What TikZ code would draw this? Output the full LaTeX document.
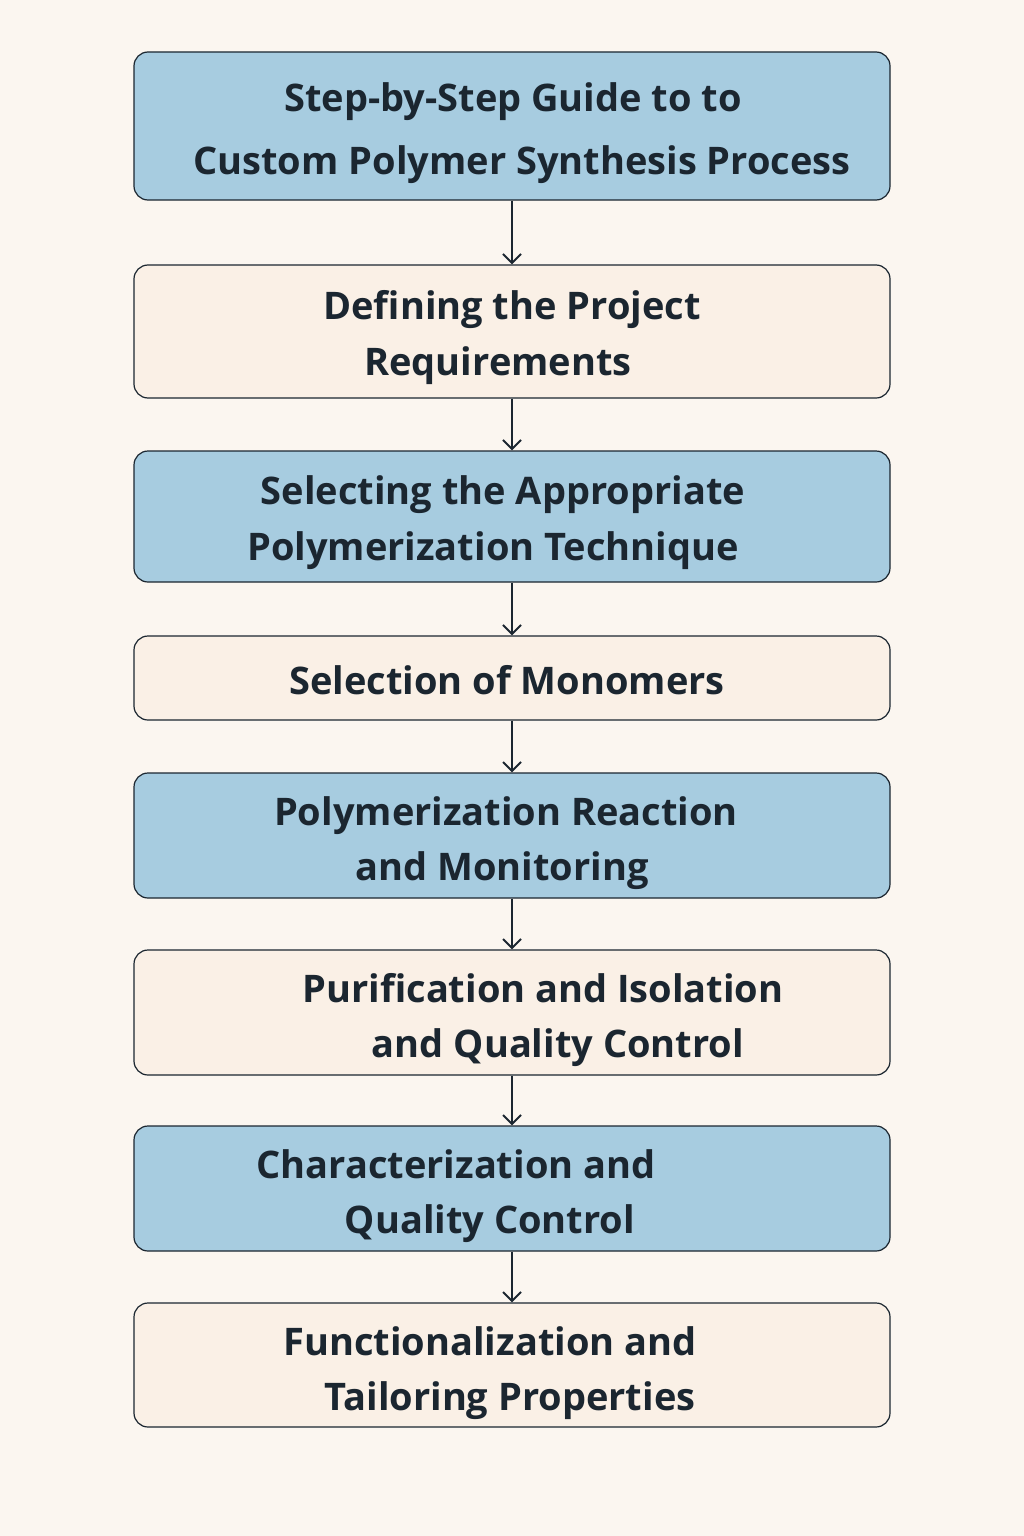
\documentclass[tikz,border=0pt]{standalone}
\usepackage{fontspec}
\setmainfont{Open Sans}
\definecolor{bg}{HTML}{FBF6F0}
\definecolor{bluebox}{HTML}{A7CCE0}
\definecolor{creambox}{HTML}{FAF0E6}
\definecolor{ink}{HTML}{1B2630}
\begin{document}
\begin{tikzpicture}[x=1pt,y=-1pt,
  box/.style={draw=ink,line width=1.2pt,rounded corners=14pt},
  bl/.style={box,fill=bluebox},
  cr/.style={box,fill=creambox},
  txt/.style={text=ink,font=\fontsize{38}{46}\selectfont\bfseries,inner sep=0pt,anchor=base},
  arr/.style={draw=ink,line width=2pt,-{Straight Barb[length=9pt,width=18pt]}}]
\usetikzlibrary{arrows.meta}
\fill[bg] (0,0) rectangle (1024,1536);
\useasboundingbox (0,0) rectangle (1024,1536);
\node[bl,minimum width=756pt,minimum height=148pt] (b1) at (512,126) {};
\node[cr,minimum width=756pt,minimum height=133pt] (b2) at (512,331.5) {};
\node[bl,minimum width=756pt,minimum height=131pt] (b3) at (512,516.5) {};
\node[cr,minimum width=756pt,minimum height=84pt] (b4) at (512,678) {};
\node[bl,minimum width=756pt,minimum height=125pt] (b5) at (512,835.5) {};
\node[cr,minimum width=756pt,minimum height=125pt] (b6) at (512,1012.5) {};
\node[bl,minimum width=756pt,minimum height=125pt] (b7) at (512,1188.5) {};
\node[cr,minimum width=756pt,minimum height=124pt] (b8) at (512,1365) {};
\foreach \a/\b in {b1/b2,b2/b3,b3/b4,b4/b5,b5/b6,b6/b7,b7/b8}
  \draw[arr] (\a.south) -- (\b.north);
\node[txt] (t1a) at (513,112) {Step-by-Step Guide to to};
\node[txt] (t1b) at (522,174) {Custom Polymer Synthesis Process};
\node[txt] (t2a) at (512,319) {Defining the Project};
\node[txt] (t2b) at (498,375) {Requirements};
\node[txt] (t3a) at (503,504) {Selecting the Appropriate};
\node[txt] (t3b) at (493,560) {Polymerization Technique};
\node[txt] (t4) at (507,694) {Selection of Monomers};
\node[txt] (t5a) at (506,825) {Polymerization Reaction};
\node[txt] (t5b) at (502,880) {and Monitoring};
\node[txt] (t6a) at (543,1002) {Purification and Isolation};
\node[txt] (t6b) at (558,1057) {and Quality Control};
\node[txt] (t7a) at (456,1178) {Characterization and};
\node[txt] (t7b) at (490,1233) {Quality Control};
\node[txt] (t8a) at (490,1355) {Functionalization and};
\node[txt] (t8b) at (510,1410) {Tailoring Properties};
\end{tikzpicture}
\end{document}
